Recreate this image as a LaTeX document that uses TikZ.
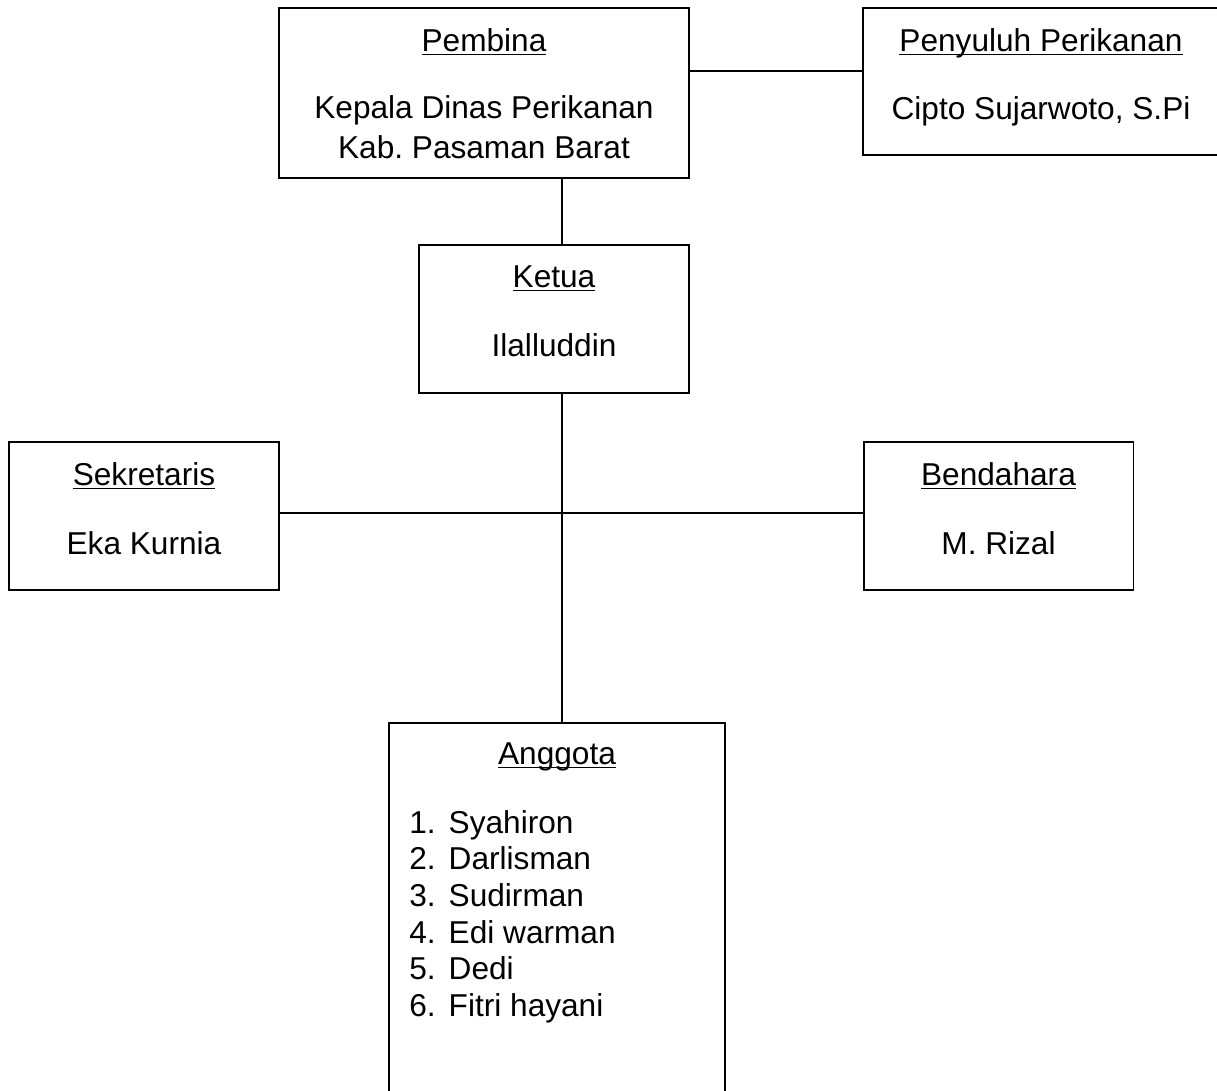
\documentclass[tikz,border=0pt]{standalone}
\usepackage{fontspec}
\setmainfont{Liberation Sans}
\frenchspacing
% underline at a fixed depth below the baseline
\newcommand{\ulword}[1]{\setbox0\hbox{#1}\rlap{\vrule height -0.08em depth 0.14em width \wd0}\box0}

\begin{document}
\begin{tikzpicture}[x=0.02cm,y=-0.02cm,
  box/.style={draw,line width=1.1pt,minimum width=5.4cm,minimum height=2.96cm,inner sep=0pt},
  txt/.style={anchor=base,inner sep=0pt,font=\fontsize{18}{20.9}\selectfont},
  conn/.style={line width=1.1pt}]
  \useasboundingbox (0,0) rectangle (1217,1090);
  \clip (0,0) rectangle (1217,1090);

  % boxes
  \node[box,minimum width=8.2cm,minimum height=3.4cm] (pembina) at (484,93) {};
  \node[box,minimum width=7.12cm,minimum height=2.94cm] (penyuluh) at (1041,81.5) {};
  \node[box] (ketua) at (554,319) {};
  \node[box] (sekretaris) at (144,516) {};
  \node[box] (bendahara) at (998.5,516) {};
  \node[box,minimum width=6.72cm,minimum height=8.6cm] (anggota) at (557,938) {};

  % texts
  \node[txt] (pembinaT) at (484,51) {\ulword{Pembina}};
  \node[txt] (pembinaA) at (484,118) {Kepala Dinas Perikanan};
  \node[txt] (pembinaB) at (484,158) {Kab. Pasaman Barat};
  \node[txt] (penyuluhT) at (1041,51) {\ulword{Penyuluh Perikanan}};
  \node[txt] (penyuluhA) at (1041,119) {Cipto Sujarwoto, S.Pi};
  \node[txt] (ketuaT) at (554,287) {\ulword{Ketua}};
  \node[txt] (ketuaA) at (554,356) {Ilalluddin};
  \node[txt] (sekretarisT) at (144,485) {\ulword{Sekretaris}};
  \node[txt] (sekretarisA) at (144,554) {Eka Kurnia};
  \node[txt] (bendaharaT) at (998.5,485) {\ulword{Bendahara}};
  \node[txt] (bendaharaA) at (998.5,554) {M. Rizal};
  \node[txt] (anggotaT) at (557,764) {\ulword{Anggota}};
  \node[txt,anchor=base west] (anggotaL) at (409,833) {%
    \begin{tabular}[t]{@{}l@{\hspace{0.26cm}}l@{}}
      1. & Syahiron\\
      2. & Darlisman\\
      3. & Sudirman\\
      4. & Edi warman\\
      5. & Dedi\\
      6. & Fitri hayani
    \end{tabular}};

  % connectors
  \coordinate (spine) at (562,0);
  \coordinate (row1) at (0,71);
  \coordinate (row3) at (0,513);
  \draw[conn] (pembina.south -| spine) -- (ketua.north -| spine);
  \draw[conn] (ketua.south -| spine) -- (anggota.north -| spine);
  \draw[conn] (pembina.east |- row1) -- (penyuluh.west |- row1);
  \draw[conn] (sekretaris.east |- row3) -- (bendahara.west |- row3);
\end{tikzpicture}
\end{document}
